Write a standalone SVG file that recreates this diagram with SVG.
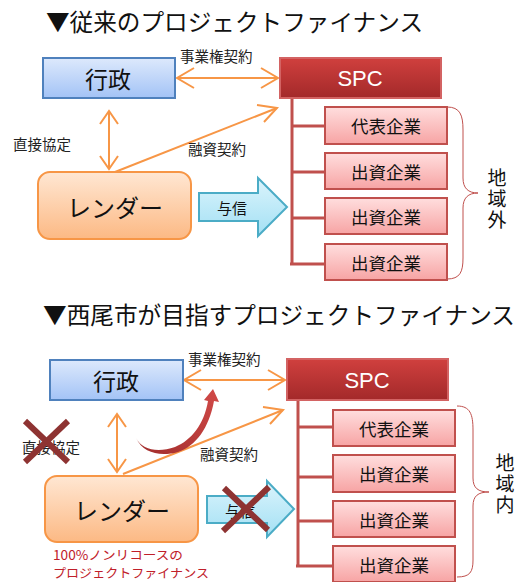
<svg xmlns="http://www.w3.org/2000/svg" width="519" height="582" viewBox="0 0 519 582">
<defs>
<linearGradient id="gBlue" x1="0" y1="0" x2="0" y2="1"><stop offset="0" stop-color="#dde9fc"/><stop offset="1" stop-color="#a3c3f6"/></linearGradient>
<linearGradient id="gSpc" x1="0" y1="0" x2="0" y2="1"><stop offset="0" stop-color="#d0403e"/><stop offset="1" stop-color="#a3292a"/></linearGradient>
<linearGradient id="gCo" x1="0" y1="0" x2="0" y2="1"><stop offset="0" stop-color="#ffdede"/><stop offset="1" stop-color="#f7a4a4"/></linearGradient>
<linearGradient id="gLen" x1="0" y1="0" x2="0" y2="1"><stop offset="0" stop-color="#ffe7d3"/><stop offset="1" stop-color="#fcb984"/></linearGradient>
<linearGradient id="gCy" x1="0" y1="0" x2="0" y2="1"><stop offset="0" stop-color="#dbf4fc"/><stop offset="1" stop-color="#a3e0f4"/></linearGradient>
<linearGradient id="gCurve" x1="0" y1="1" x2="1" y2="0"><stop offset="0" stop-color="#a12d2c"/><stop offset="1" stop-color="#d24a48"/></linearGradient>
<style>
text{font-family:"Noto Sans CJK JP","Liberation Sans",sans-serif;fill:#111}
.title{font-size:23.5px}
.lbl{font-size:14.5px;fill:#222}
.big{font-size:23px;text-anchor:middle;dominant-baseline:central}
.co{font-size:17.5px;text-anchor:middle;dominant-baseline:central}
.vt{font-size:19px;writing-mode:vertical-rl;letter-spacing:2px}
.gov{fill:url(#gBlue);stroke:#4f81bd;stroke-width:2}
.spc{fill:url(#gSpc);stroke:#d36363;stroke-width:2}
.cobox{fill:url(#gCo);stroke:#c0504d;stroke-width:2}
.len{fill:url(#gLen);stroke:#f79646;stroke-width:2}
.cy{fill:url(#gCy);stroke:#4bacc6;stroke-width:2}
.or{fill:none;stroke:#f79646;stroke-width:2}
.tree{fill:none;stroke:#c0504d;stroke-width:3}
.brace{fill:none;stroke:#c0504d;stroke-width:1}
.xx{stroke:#8e3332;stroke-width:6;fill:none}
.red{font-size:12.5px;fill:#c0202a}
</style>
</defs>

<!-- ===== Section 1 ===== -->
<text class="title" x="46" y="31" textLength="377" lengthAdjust="spacingAndGlyphs">▼従来のプロジェクトファイナンス</text>

<g id="conn1">
  <line class="or" x1="177" y1="78" x2="278" y2="78"/>
  <polyline class="or" points="194,68 177,78 194,88"/>
  <polyline class="or" points="261,68 278,78 261,88"/>
  <line class="or" x1="109" y1="112" x2="109" y2="169"/>
  <polyline class="or" points="100,124 109,111 118,124"/>
  <polyline class="or" points="100,156 109,169 118,156"/>
  <line class="or" x1="115" y1="172" x2="277" y2="108"/>
  <polyline class="or" points="257,105 277,108 264,122"/>
  <polyline class="tree" points="292,98 292,264"/>
  <line class="tree" x1="292" y1="126" x2="325" y2="126"/>
  <line class="tree" x1="292" y1="172" x2="325" y2="172"/>
  <line class="tree" x1="292" y1="218" x2="325" y2="218"/>
  <line class="tree" x1="290" y1="264" x2="325" y2="264"/>
  <path class="brace" d="M447,107 C460,107 463,115 463,130 L463,178 C463,188 468,193 478,193 C468,193 463,198 463,208 L463,258 C463,272 460,279 447,279"/>
  <text class="lbl" x="180" y="62">事業権契約</text>
  <text class="lbl" x="13" y="150">直接協定</text>
  <text class="lbl" x="188" y="155">融資契約</text>
</g>

<g id="gov1"><rect class="gov" x="43" y="58" width="132" height="40"/><text class="big" x="108" y="78">行政</text></g>
<g id="spc1"><rect class="spc" x="280" y="58" width="161" height="40"/><text class="big" x="360" y="78" style="fill:#fff;font-family:'Liberation Sans',sans-serif;font-size:22px">SPC</text></g>
<g id="lender1"><rect class="len" x="38" y="172" width="153" height="67" rx="12"/><text class="big" x="115" y="206" style="font-size:24px">レンダー</text></g>
<g id="credit1"><path class="cy" d="M199,193 L258,193 L258,178 L287,207 L258,236 L258,221 L199,221 Z"/><text class="co" x="232" y="207" style="font-size:15px">与信</text></g>
<g id="c1a"><rect class="cobox" x="325" y="107" width="122" height="37"/><text class="co" x="386" y="125.5">代表企業</text></g>
<g id="c1b"><rect class="cobox" x="325" y="153" width="122" height="36"/><text class="co" x="386" y="171">出資企業</text></g>
<g id="c1c"><rect class="cobox" x="325" y="198" width="122" height="36"/><text class="co" x="386" y="216">出資企業</text></g>
<g id="c1d"><rect class="cobox" x="325" y="244" width="122" height="36"/><text class="co" x="386" y="262">出資企業</text></g>
<g id="out1"><text class="vt" x="497" y="168">地域外</text></g>

<!-- ===== Section 2 ===== -->
<text class="title" x="43" y="324" textLength="472" lengthAdjust="spacingAndGlyphs">▼西尾市が目指すプロジェクトファイナンス</text>

<g id="conn2">
  <line class="or" x1="184" y1="380" x2="285" y2="380"/>
  <polyline class="or" points="201,370 184,380 201,390"/>
  <polyline class="or" points="268,370 285,380 268,390"/>
  <line class="or" x1="117" y1="414" x2="117" y2="472"/>
  <polyline class="or" points="108,427 117,414 126,427"/>
  <polyline class="or" points="108,459 117,472 126,459"/>
  <line class="or" x1="123" y1="474" x2="283" y2="410"/>
  <polyline class="or" points="263,407 283,410 270,424"/>
  <polyline class="tree" points="298,400 298,566"/>
  <line class="tree" x1="298" y1="427" x2="333" y2="427"/>
  <line class="tree" x1="298" y1="477" x2="333" y2="477"/>
  <line class="tree" x1="298" y1="521" x2="333" y2="521"/>
  <line class="tree" x1="296" y1="566" x2="333" y2="566"/>
  <path class="brace" d="M457,406 C470,406 473,414 473,430 L473,478 C473,488 478,492 489,492 C478,492 473,496 473,506 L473,560 C473,572 470,577 457,577"/>
  <text class="lbl" x="188" y="365">事業権契約</text>
  <text class="lbl" x="22" y="453">直接協定</text>
  <text class="lbl" x="200" y="460">融資契約</text>
  <path d="M136,438 C142,450 158,453 175,447 C192,440 204,424 208,401 L204,400 L213,389 L219,402 L214,401 C209,428 196,446 178,452 C160,457 143,453 136,438 Z" fill="url(#gCurve)"/>
</g>

<g id="gov2"><rect class="gov" x="50" y="360" width="133" height="40"/><text class="big" x="116" y="380">行政</text></g>
<g id="spc2"><rect class="spc" x="287" y="359" width="161" height="41"/><text class="big" x="367" y="380" style="fill:#fff;font-family:'Liberation Sans',sans-serif;font-size:22px">SPC</text></g>
<g id="lender2"><rect class="len" x="45" y="476" width="153" height="66" rx="12"/><text class="big" x="122" y="509" style="font-size:24px">レンダー</text></g>
<g id="credit2"><path class="cy" d="M207,496 L267,496 L267,481 L294,509 L267,537 L267,523 L207,523 Z"/><text class="co" x="240" y="510" style="font-size:15px">与信</text></g>
<g id="c2a"><rect class="cobox" x="333" y="410" width="122" height="36"/><text class="co" x="394" y="428">代表企業</text></g>
<g id="c2b"><rect class="cobox" x="333" y="455" width="122" height="37"/><text class="co" x="394" y="473.5">出資企業</text></g>
<g id="c2c"><rect class="cobox" x="333" y="501" width="122" height="36"/><text class="co" x="394" y="519">出資企業</text></g>
<g id="c2d"><rect class="cobox" x="333" y="546" width="122" height="36"/><text class="co" x="394" y="564">出資企業</text></g>
<g id="in2"><text class="vt" x="505" y="453">地域内</text></g>

<g id="cross1"><line class="xx" x1="25" y1="421" x2="68" y2="462"/><line class="xx" x1="68" y1="421" x2="25" y2="462"/></g>
<g id="cross2"><line class="xx" x1="224" y1="488" x2="268" y2="530"/><line class="xx" x1="269" y1="487" x2="223" y2="531"/></g>

<g id="note"><text class="red" x="53" y="559.5" textLength="130" lengthAdjust="spacingAndGlyphs">100%ノンリコースの</text><text class="red" x="53" y="578" textLength="156" lengthAdjust="spacingAndGlyphs">プロジェクトファイナンス</text></g>
</svg>
